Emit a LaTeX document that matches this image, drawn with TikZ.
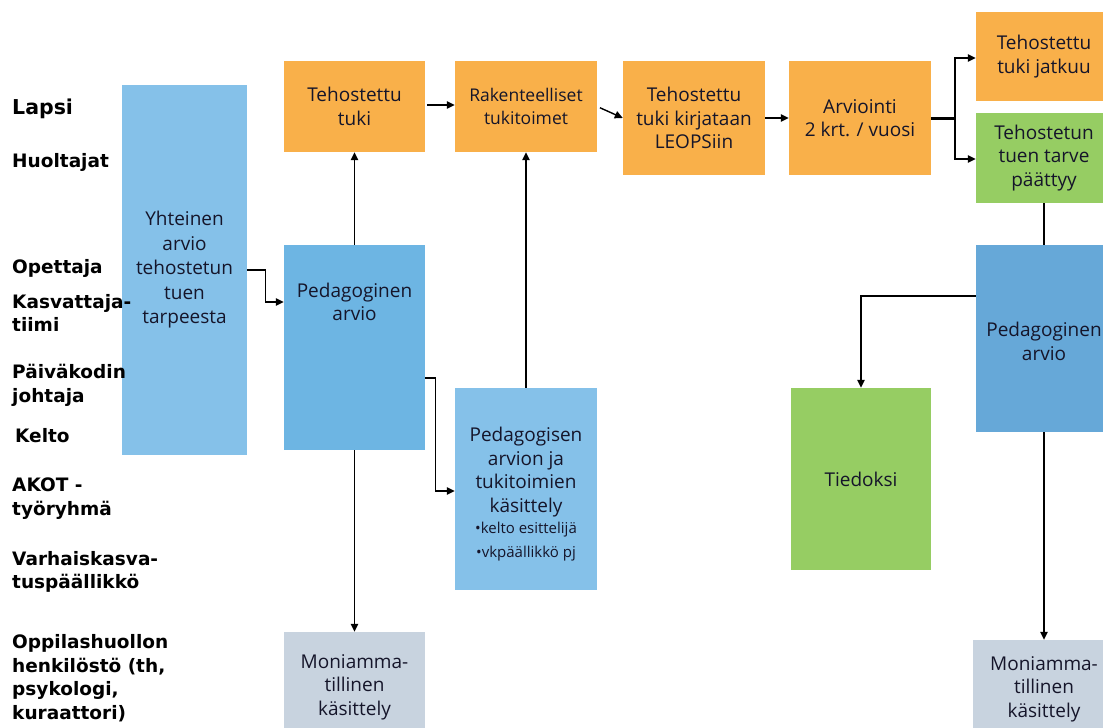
\documentclass[tikz,border=0pt]{standalone}
\usepackage{fontspec}
\setmainfont{Open Sans}
\newfontfamily\labfont{DejaVu Sans}
\usetikzlibrary{arrows.meta}
\definecolor{orng}{HTML}{F9B04A}
\definecolor{lblue}{HTML}{85C1E9}
\definecolor{mblue}{HTML}{6DB5E3}
\definecolor{rblue}{HTML}{66A8D8}
\definecolor{grn}{HTML}{96CD63}
\definecolor{gry}{HTML}{C8D3DF}
\definecolor{txt}{HTML}{15152A}
\tikzset{
  box/.style={draw=none, inner sep=0pt, align=center, text=txt, font=\fontsize{19}{23.5}\selectfont},
  lab/.style={anchor=west, inner sep=0pt, align=left, text=black, font=\labfont\bfseries\fontsize{18.5}{23.5}\selectfont},
  arr/.style={line width=1.4pt, -{Triangle[length=8pt,width=7.5pt]}},
  ln/.style={line width=1.4pt},
}
\begin{document}
\begin{tikzpicture}[x=1pt,y=-1pt]
\path[use as bounding box, clip] (0,0) rectangle (1103,728);
\fill[white] (0,0) rectangle (1103,728);

% boxes
\node[box, fill=lblue, minimum width=125pt, minimum height=370pt, font=\fontsize{19}{24.5}\selectfont] (yht) at (184.5,270) {Yhteinen\\arvio\\tehostetun\\tuen\\tarpeesta};
\node[box, fill=orng, minimum width=141pt, minimum height=91pt] (tt) at (354.5,106.5) {Tehostettu\\tuki};
\node[box, fill=orng, minimum width=142pt, minimum height=91pt, font=\fontsize{17.5}{23}\selectfont] (rak) at (526,106.5) {Rakenteelliset\\tukitoimet};
\node[box, fill=orng, minimum width=142pt, minimum height=114pt] (kir) at (694,118) {Tehostettu\\tuki kirjataan\\LEOPSiin};
\node[box, fill=orng, minimum width=142pt, minimum height=114pt] (arv) at (860,118) {Arviointi\\2 krt. / vuosi};
\node[box, fill=orng, minimum width=136pt, minimum height=89pt] (jat) at (1044,56.5) {Tehostettu\\tuki jatkuu};
\node[box, fill=grn, minimum width=136pt, minimum height=90pt] (paat) at (1044,158) {Tehostetun\\tuen tarve\\päättyy};
\node[box, fill=mblue, minimum width=141pt, minimum height=205pt] (ped1) at (354.5,347.5) {};
\node[box] (ped1t) at (354.5,302) {Pedagoginen\\arvio};
\node[box, fill=lblue, minimum width=142pt, minimum height=202pt] (kas) at (526,489) {};
\node[box, anchor=north] (kast) at (526,427) {Pedagogisen\\arvion ja\\tukitoimien\\käsittely\\[-2pt]{\fontsize{15}{19}\selectfont •kelto esittelijä}\\{\fontsize{15}{19}\selectfont •vkpäällikkö pj}};
\node[box, fill=rblue, minimum width=136pt, minimum height=187pt] (ped2) at (1044,338.5) {};
\node[box] (ped2t) at (1044,341.5) {Pedagoginen\\arvio};
\node[box, fill=grn, minimum width=140pt, minimum height=182pt] (tie) at (861,479) {Tiedoksi};
\node[box, fill=gry, minimum width=141pt, minimum height=110pt] (mon1) at (354.5,687) {Moniamma-\\tillinen\\käsittely};
\node[box, fill=gry, minimum width=142pt, minimum height=98pt] (mon2) at (1044,689) {Moniamma-\\tillinen\\käsittely};

% left labels (drawn over the boxes)
\node[lab, font=\labfont\bfseries\fontsize{20.5}{24}\selectfont] (lapsi) at (12,109) {Lapsi};
\node[lab] (huol) at (12,162) {Huoltajat};
\node[lab] (opet) at (12,268) {Opettaja};
\node[lab] (kasv) at (12,313) {Kasvattaja-\\tiimi};
\node[lab] (paiv) at (12,385.5) {Päiväkodin\\johtaja};
\node[lab] (kelto) at (15,436) {Kelto};
\node[lab] (akot) at (12,498.5) {AKOT -\\työryhmä};
\node[lab] (varh) at (12,572) {Varhaiskasva-\\tuspäällikkö};
\node[lab] (oppi) at (12,678) {Oppilashuollon\\henkilöstö (th,\\psykologi,\\kuraattori)};

% connectors
\draw[arr] (yht.east) -- ++(18,0) |- (ped1.west |- 0,302);
\draw[arr] (ped1.north) -- (tt.south);
\draw[arr, shorten <=2pt] (tt.east |- 0,105) -- (rak.west |- 0,105);
\draw[arr, shorten <=3pt] (rak.east) -- (kir.west);
\draw[arr] (kir.east) -- (arv.west);
\draw[line width=3pt] (arv.east) -- (955,118) coordinate (br);
\draw[arr] (br) |- (jat.west |- 0,58);
\draw[arr] (br) |- (paat.west |- 0,159);
\draw[ln] (paat.south) -- (ped2.north);
\draw[arr] (ped2.west |- 0,296) -| (tie.north);
\draw[arr] (ped2.south) -- (mon2.north);
\draw[arr] (ped1.east |- 0,378) -- ++(10,0) |- (kas.west |- 0,491);
\draw[arr] (kas.north) -- (rak.south);
\draw[arr] (ped1.south) -- (mon1.north);
\end{tikzpicture}
\end{document}
